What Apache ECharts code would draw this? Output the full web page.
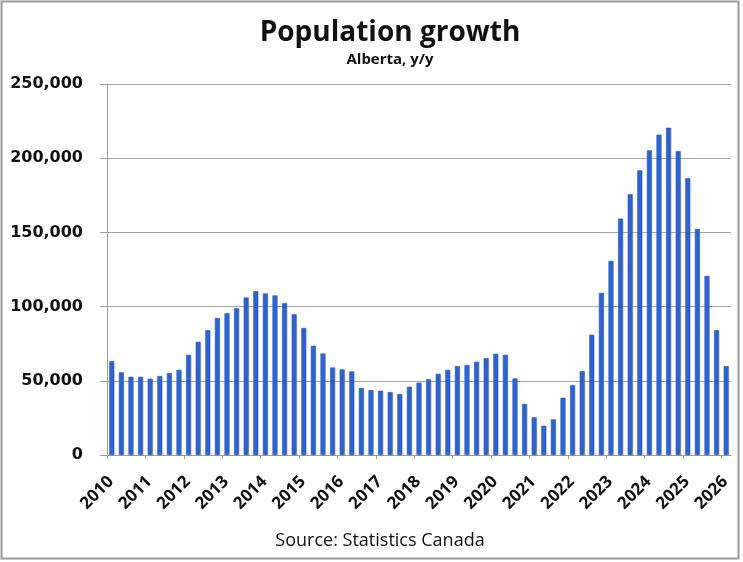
<!DOCTYPE html>
<html>
<head>
<meta charset="utf-8">
<title>Population growth</title>
<script src="https://cdn.jsdelivr.net/npm/echarts@6/dist/echarts.min.js"></script>
<style>
  html, body { margin: 0; padding: 0; background: #ffffff; }
  #chart { width: 743px; height: 562px; }
</style>
</head>
<body>
<div id="chart"></div>
<script>
// Alberta population growth, year over year, quarterly from 2010 Q1 to 2026 Q1
const firstYear = 2010;
const lastYear = 2026;

const quarters = [];
for (let y = firstYear; y <= lastYear; y++) {
  for (let q = 1; q <= 4; q++) {
    if (y === lastYear && q > 1) break;
    quarters.push(y + ' Q' + q);
  }
}

const growth = [
  63300, 55700, 52700, 52700,      // 2010
  51400, 53200, 55200, 57400,      // 2011
  67500, 76300, 84100, 92400,      // 2012
  95600, 98900, 106100, 110400,    // 2013
  108800, 107500, 102300, 94900,   // 2014
  85600, 73600, 68400, 59000,      // 2015
  57700, 56300, 45100, 43700,      // 2016
  43300, 42400, 41100, 46000,      // 2017
  48700, 51100, 54700, 57400,      // 2018
  59900, 60600, 62800, 65300,      // 2019
  68200, 67500, 51600, 34400,      // 2020
  25400, 19700, 24000, 38600,      // 2021
  47100, 56500, 81000, 109200,     // 2022
  130800, 159300, 175700, 191800,  // 2023
  205300, 215800, 220500, 204800,  // 2024
  186600, 152300, 120700, 84100,   // 2025
  59900                            // 2026
];

const yTicks = [0, 50000, 100000, 150000, 200000, 250000];

// year boundaries on a quarter-index scale (one unit per quarter)
const yearTickValues = [];
const yearLabelValues = [];
for (let y = firstYear; y <= lastYear; y++) {
  const idx = (y - firstYear) * 4;
  yearTickValues.push(idx);
  yearLabelValues.push(idx + 0.4);
}

const chart = echarts.init(document.getElementById('chart'), null, { renderer: 'canvas' });

const gridBox = { left: 107, right: 12, top: 84, bottom: 107 };

chart.setOption({
  animation: false,
  backgroundColor: '#ffffff',
  textStyle: { fontFamily: 'Open Sans' },
  graphic: [
    {
      type: 'rect',
      shape: { x: 1.5, y: 1.5, width: 737, height: 557 },
      style: { fill: 'none', stroke: '#9a9a9a', lineWidth: 2 },
      silent: true
    },
    {
      type: 'text',
      x: 390, y: 19,
      style: {
        text: 'Population growth',
        font: 'bold 28px "Open Sans"',
        fill: '#111111',
        textAlign: 'center'
      }
    },
    {
      type: 'text',
      x: 390, y: 52,
      style: {
        text: 'Alberta, y/y',
        font: 'bold 15px "Open Sans"',
        fill: '#111111',
        textAlign: 'center'
      }
    },
    {
      type: 'text',
      x: 380, y: 532,
      style: {
        text: 'Source: Statistics Canada',
        font: '18px "Open Sans"',
        fill: '#111111',
        textAlign: 'center'
      }
    }
  ],
  grid: gridBox,
  xAxis: [
    {
      type: 'category',
      data: quarters,
      boundaryGap: true,
      axisLine: { show: true, lineStyle: { color: '#9a9a9a', width: 1 } },
      axisTick: { show: false },
      axisLabel: { show: false },
      splitLine: { show: false }
    },
    {
      type: 'value',
      min: 0,
      max: quarters.length,
      position: 'bottom',
      axisLine: { show: false },
      splitLine: { show: false },
      axisTick: {
        show: true,
        length: 4,
        customValues: yearTickValues,
        lineStyle: { color: '#9a9a9a' }
      },
      axisLabel: {
        show: true,
        customValues: yearLabelValues,
        formatter: v => String(firstYear + Math.floor(v / 4)),
        rotate: 45,
        margin: 24,
        fontFamily: 'Open Sans',
        fontWeight: 'bold',
        fontSize: 17,
        color: '#111111'
      }
    }
  ],
  yAxis: {
    type: 'value',
    min: yTicks[0],
    max: yTicks[yTicks.length - 1],
    interval: yTicks[1] - yTicks[0],
    axisLine: { show: true, lineStyle: { color: '#9a9a9a', width: 1 } },
    axisTick: { show: true, length: 7, lineStyle: { color: '#9a9a9a' } },
    splitLine: { show: true, lineStyle: { color: '#a6a6a6', width: 1 } },
    axisLabel: {
      margin: 24,
      formatter: v => v.toLocaleString('en-US'),
      fontFamily: 'DejaVu Sans',
      fontWeight: 'bold',
      fontSize: 16,
      color: '#111111'
    }
  },
  series: [
    {
      type: 'bar',
      xAxisIndex: 0,
      data: growth,
      barWidth: 5,
      itemStyle: { color: '#3163cf', borderColor: '#2450b8', borderWidth: 0.6 }
    }
  ]
});
</script>
</body>
</html>
